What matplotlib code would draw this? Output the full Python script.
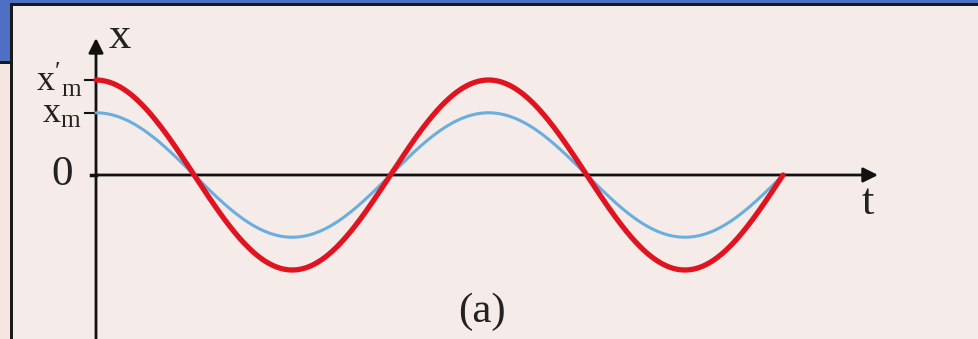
import numpy as np
import matplotlib.pyplot as plt
from matplotlib.patches import Rectangle

plt.rcParams['mathtext.fontset'] = 'custom'
plt.rcParams['mathtext.rm'] = 'Liberation Serif'
plt.rcParams['mathtext.it'] = 'Liberation Serif:italic'

# amplitudes (x'_m > x_m) and time span, in units of the period
amp_red = 1.0
amp_blue = 0.655
n_periods = 1.75
period = 1.0

t = np.linspace(0, n_periods * period, 600)
x_red = amp_red * np.cos(2 * np.pi * t / period)
x_blue = amp_blue * np.cos(2 * np.pi * t / period)

W, H = 979, 339
fig = plt.figure(figsize=(W / 100, H / 100), dpi=100)
fig.patch.set_facecolor('#f5ebe8')

# slide frame around the panel
def frame(x, y, w, h, color, z=1):
    fig.patches.append(Rectangle((x / W, 1 - (y + h) / H), w / W, h / H,
                                 transform=fig.transFigure, facecolor=color,
                                 edgecolor='none', zorder=z))

frame(0, 0, W, 4, '#4d6fc4')
frame(0, 0, 11, 62, '#4d6fc4')
frame(0, 63, 11, H - 63, '#f6e6e2')
frame(0, 61, 11, 2.5, '#1a1a1a', 2)
frame(10, 3, 3, H, '#1a1a1a', 2)
frame(10, 3.5, W, 2.5, '#1a1a1a', 2)

ax = fig.add_axes([0, 0, 1, 1])
ax.set_zorder(5)
ax.set_facecolor('none')
px_t = 392.6   # pixels per period
px_x = 95.0    # pixels per unit of x
x0, y0 = 96, 175
ax.set_xlim(-x0 / px_t, (W - x0) / px_t)
ax.set_ylim(-(H - y0) / px_x, y0 / px_x)
ax.axis('off')

# axes with arrows
ax.annotate('', xy=((878 - x0) / px_t, 0), xytext=(0, 0),
            arrowprops=dict(arrowstyle='-|>', color='#111111', lw=2.0,
                            mutation_scale=22, shrinkA=0, shrinkB=0))
ax.annotate('', xy=(0, (y0 - 38) / px_x), xytext=(0, -(H - y0 + 2) / px_x),
            arrowprops=dict(arrowstyle='-|>', color='#111111', lw=2.0,
                            mutation_scale=22, shrinkA=0, shrinkB=0))

ax.plot(t, x_blue, color='#6aaedf', lw=2.2, solid_capstyle='round', zorder=3)
ax.plot(t, x_red, color='#e01420', lw=3.8, solid_capstyle='round', zorder=4)

# tick marks at the amplitudes and origin
for a in (amp_red, amp_blue):
    ax.plot([-11 / px_t, 0], [a, a], color='#111111', lw=1.5)
ax.plot([-5 / px_t, 0], [0, 0], color='#111111', lw=2.5)

serif = 'Liberation Serif'
ax.text(-14 / px_t, amp_red, r"$\mathrm{x'_{m}}$", fontsize=26, ha='right', va='center',
        color='#222222')
ax.text(-14 / px_t, amp_blue, r"$\mathrm{x_{m}}$", fontsize=26, ha='right', va='center',
        color='#222222')
ax.text(-34 / px_t, 0, '0', family=serif, fontsize=31, ha='center', va='center',
        color='#222222')
ax.text(24 / px_t, (y0 - 37) / px_x, 'x', family=serif, fontsize=32, ha='center',
        va='center', color='#222222')
ax.text((868 - x0) / px_t, -(203 - y0) / px_x, 't', family=serif, fontsize=32,
        ha='center', va='center', color='#222222')
ax.text((482 - x0) / px_t, -(312 - y0) / px_x, '(a)', family=serif, fontsize=31,
        ha='center', va='center', color='#222222')

fig.savefig('out.png', dpi=100, facecolor=fig.get_facecolor())
